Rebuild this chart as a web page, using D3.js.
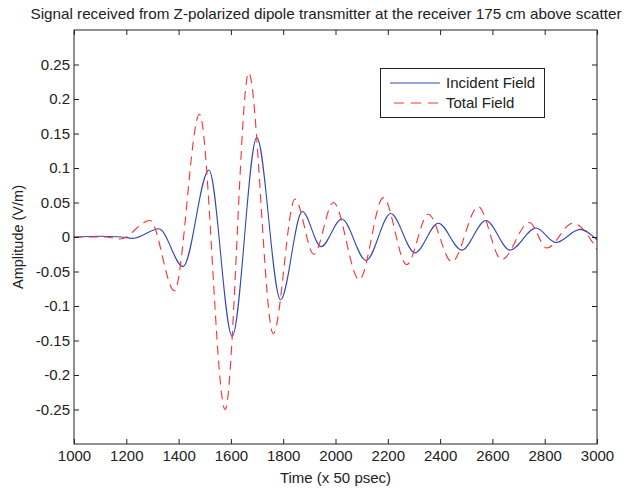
<!DOCTYPE html>
<html>
<head>
<meta charset="utf-8">
<script src="https://cdn.jsdelivr.net/npm/d3@7/dist/d3.min.js"></script>
<style>
html,body{margin:0;padding:0;background:#fff;}
svg{display:block;}
text{font-family:"Liberation Sans",Arial,Helvetica,sans-serif;fill:#222;}
</style>
</head>
<body>
<svg id="chart" width="636" height="489"></svg>
<script>
// ---- data ----
const titleText = "Signal received from Z-polarized dipole transmitter at the receiver 175 cm above scatter";
const xLabel = "Time (x 50 psec)";
const yLabel = "Amplitude (V/m)";
const seriesNames = ["Incident Field", "Total Field"];
const xTicks = [1000,1200,1400,1600,1800,2000,2200,2400,2600,2800,3000];
const yTicks = [-0.25,-0.2,-0.15,-0.1,-0.05,0,0.05,0.1,0.15,0.2,0.25];

// Incident field: [time, amplitude] at read extrema
const incidentT = [1000,1100,1180,1226,1325,1417,1516,1605,1699,1790,1873,1945,2024,2117,2211,2304,2393,2483,2575,2667,2767,2843,2935,3000];
const incidentV = [0,0.001,0,-0.002,0.012,-0.043,0.097,-0.144,0.144,-0.091,0.037,-0.014,0.026,-0.034,0.034,-0.023,0.020,-0.019,0.024,-0.019,0.013,-0.008,0.011,-0.004];

// Total field
const totalT = [1000,1120,1176,1291,1384,1480,1578,1668,1762,1845,1917,1992,2091,2183,2272,2355,2445,2546,2635,2741,2808,2907,3000];
const totalV = [0,0,-0.003,0.024,-0.078,0.178,-0.25,0.238,-0.14,0.055,-0.025,0.05,-0.062,0.057,-0.04,0.033,-0.036,0.044,-0.033,0.021,-0.016,0.02,-0.018];

// ---- layout ----
const svg = d3.select("#chart");
const L = 74, R = 597, T = 30, B = 444;
const FS = 15;
const x = d3.scaleLinear().domain([1000,3000]).range([L,R]);
const y = d3.scaleLinear().domain([-0.3,0.3]).range([B,T]);

svg.append("rect").attr("width",636).attr("height",489).attr("fill","#fff");

svg.append("clipPath").attr("id","clip").append("rect")
  .attr("x",L).attr("y",T).attr("width",R-L).attr("height",B-T);

const line = d3.line().x(d=>x(d[0])).y(d=>y(d[1])).curve(d3.curveMonotoneX);
const incident = incidentT.map((t,i)=>[t,incidentV[i]]);
const total = totalT.map((t,i)=>[t,totalV[i]]);

const blue = "#3548b5", red = "#ff3030";
const g = svg.append("g").attr("clip-path","url(#clip)");
g.append("path").datum(incident).attr("d",line)
  .attr("fill","none").attr("stroke",blue).attr("stroke-width",1.1);
g.append("path").datum(total).attr("d",line)
  .attr("fill","none").attr("stroke",red).attr("stroke-width",1.1)
  .attr("stroke-dasharray","9,6");

// axes
const fmtY = d => String(+d.toFixed(2));
const axB = d3.axisBottom(x).tickValues(xTicks).tickSizeInner(-5).tickSizeOuter(0).tickPadding(6).tickFormat(d3.format("d"));
const axT = d3.axisTop(x).tickValues(xTicks).tickSizeInner(-5).tickSizeOuter(0).tickFormat("");
const axLft = d3.axisLeft(y).tickValues(yTicks).tickSizeInner(-5).tickSizeOuter(0).tickPadding(4).tickFormat(fmtY);
const axRt = d3.axisRight(y).tickValues(yTicks).tickSizeInner(-5).tickSizeOuter(0).tickFormat("");

function style(sel){
  sel.select(".domain").remove();
  sel.selectAll("line").attr("stroke","#222");
  sel.selectAll("text").attr("font-size",FS).attr("fill","#222")
     .attr("font-family","'Liberation Sans',Arial,sans-serif");
}
svg.append("g").attr("transform",`translate(0,${B})`).call(axB).call(style);
svg.append("g").attr("transform",`translate(0,${T})`).call(axT).call(style);
svg.append("g").attr("transform",`translate(${L},0)`).call(axLft).call(style);
svg.append("g").attr("transform",`translate(${R},0)`).call(axRt).call(style);

svg.append("rect").attr("x",L).attr("y",T).attr("width",R-L).attr("height",B-T)
  .attr("fill","none").attr("stroke","#222").attr("stroke-width",1);

// labels
svg.append("text").attr("x",326).attr("y",19).attr("text-anchor","middle")
  .attr("font-size",FS).attr("textLength",591).attr("lengthAdjust","spacingAndGlyphs")
  .text(titleText);
svg.append("text").attr("x",(L+R)/2).attr("y",483).attr("text-anchor","middle")
  .attr("font-size",FS).text(xLabel);
svg.append("text").attr("transform",`translate(23,${(T+B)/2}) rotate(-90)`)
  .attr("text-anchor","middle").attr("font-size",FS-0.5).text(yLabel);

// legend
const lg = svg.append("g");
lg.append("rect").attr("x",380.5).attr("y",68.5).attr("width",164).attr("height",49)
  .attr("fill","#fff").attr("stroke","#222");
const legendColors = [blue, red];
const legendDash = [null,"10,7"];
const legendX1 = [390,394];
seriesNames.forEach((n,i)=>{
  const yy = 83 + i*20;
  lg.append("line").attr("x1",legendX1[i]).attr("x2",440).attr("y1",yy).attr("y2",yy)
    .attr("stroke",legendColors[i]).attr("stroke-width",1.1)
    .attr("stroke-dasharray",legendDash[i]);
  lg.append("text").attr("x",446).attr("y",yy+5).attr("font-size",FS).text(n);
});
</script>
</body>
</html>
